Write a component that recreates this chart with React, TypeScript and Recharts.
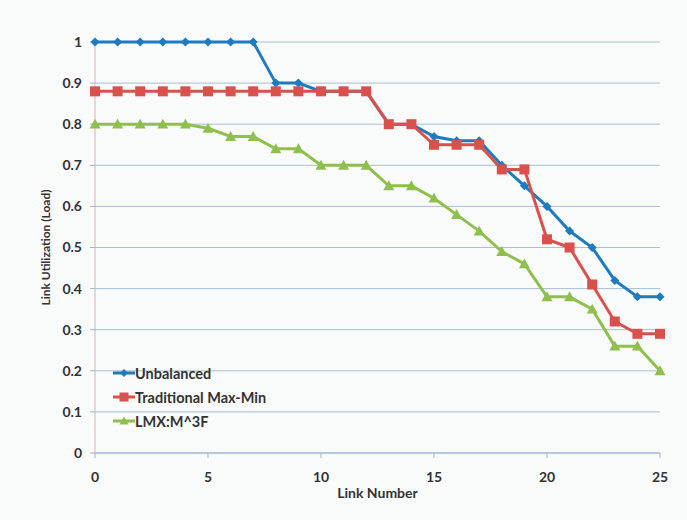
import React from 'react';
import { LineChart, Line, XAxis, YAxis, CartesianGrid } from 'recharts';

const links = [0, 1, 2, 3, 4, 5, 6, 7, 8, 9, 10, 11, 12, 13, 14, 15, 16, 17, 18, 19, 20, 21, 22, 23, 24, 25];
const unbalanced = [1, 1, 1, 1, 1, 1, 1, 1, 0.9, 0.9, 0.88, 0.88, 0.88, 0.8, 0.8, 0.77, 0.76, 0.76, 0.7, 0.65, 0.6, 0.54, 0.5, 0.42, 0.38, 0.38];
const maxMin = [0.88, 0.88, 0.88, 0.88, 0.88, 0.88, 0.88, 0.88, 0.88, 0.88, 0.88, 0.88, 0.88, 0.8, 0.8, 0.75, 0.75, 0.75, 0.69, 0.69, 0.52, 0.5, 0.41, 0.32, 0.29, 0.29];
const lmx = [0.8, 0.8, 0.8, 0.8, 0.8, 0.79, 0.77, 0.77, 0.74, 0.74, 0.7, 0.7, 0.7, 0.65, 0.65, 0.62, 0.58, 0.54, 0.49, 0.46, 0.38, 0.38, 0.35, 0.26, 0.26, 0.2];
const xTicks = [0, 5, 10, 15, 20, 25];
const yTicks = [0, 0.1, 0.2, 0.3, 0.4, 0.5, 0.6, 0.7, 0.8, 0.9, 1];

const data = links.map((n, i) => ({
    link: n,
    unbalanced: unbalanced[i],
    maxMin: maxMin[i],
    lmx: lmx[i],
}));

const BLUE = '#1f7bc0';
const RED = '#d9514c';
const GREEN = '#8fc04e';
const FONT = 'Lato, "Open Sans", sans-serif';

const Diamond = (props: any) => {
    const { cx, cy, fill, r = 4.5 } = props;
    if (cx == null || cy == null) return null;
    return <path d={`M${cx},${cy - r} L${cx + r},${cy} L${cx},${cy + r} L${cx - r},${cy} Z`} fill={fill} />;
};

const Square = (props: any) => {
    const { cx, cy, fill, s = 5 } = props;
    if (cx == null || cy == null) return null;
    return <rect x={cx - s} y={cy - s} width={s * 2} height={s * 2} fill={fill} />;
};

const Triangle = (props: any) => {
    const { cx, cy, fill, s = 5.5 } = props;
    if (cx == null || cy == null) return null;
    return <path d={`M${cx},${cy - s} L${cx + s},${cy + s * 0.8} L${cx - s},${cy + s * 0.8} Z`} fill={fill} />;
};

const series = [
    { key: 'unbalanced', name: 'Unbalanced', color: BLUE, Shape: Diamond },
    { key: 'maxMin', name: 'Traditional Max-Min', color: RED, Shape: Square },
    { key: 'lmx', name: 'LMX:M^3F', color: GREEN, Shape: Triangle },
];

const LegendBox = () => (
    <div style={{ position: 'absolute', left: 113, top: 361, fontFamily: FONT, fontWeight: 700, fontSize: 14.5, color: '#333' }}>
        {series.map((s) => (
            <div key={s.key} style={{ display: 'flex', alignItems: 'center', height: 24 }}>
                <svg width={22} height={14}>
                    <line x1={0} y1={7} x2={22} y2={7} stroke={s.color} strokeWidth={3} />
                    <s.Shape cx={11} cy={7} fill={s.color} r={4} s={4.5} />
                </svg>
                <span>{s.name}</span>
            </div>
        ))}
    </div>
);

const YLabel = (props: any) => {
    const vb = props.viewBox || {};
    const cy = (vb.y ?? 42) + (vb.height ?? 411) / 2;
    const cx = 45;
    return (
        <text
            x={cx}
            y={cy}
            transform={`rotate(-90, ${cx}, ${cy})`}
            textAnchor="middle"
            dominantBaseline="central"
            fill="#333"
            fontFamily={FONT}
            fontWeight={700}
            fontSize={12}
        >
            Link Utilization  (Load)
        </text>
    );
};

export default () => {
    return (
        <div style={{ position: 'absolute', left: 0, top: 0, width: 687, height: 520, background: '#f9fafa' }}>
            <LineChart
                width={687}
                height={520}
                data={data}
                margin={{ top: 42, right: 27, left: 0, bottom: 37 }}
            >
                <CartesianGrid horizontal vertical={false} stroke="#a8bfd4" strokeWidth={1} />
                <XAxis
                    dataKey="link"
                    type="number"
                    domain={[0, 25]}
                    ticks={xTicks}
                    interval={0}
                    height={30}
                    stroke="#9fb5cc"
                    tickLine={{ stroke: '#9fb5cc' }}
                    tickSize={5}
                    tickMargin={14}
                    tick={{ fill: '#333', fontFamily: FONT, fontWeight: 700, fontSize: 14 }}
                    label={{ value: 'Link Number', position: 'insideBottom', offset: -15, dx: 0, fill: '#333', fontFamily: FONT, fontWeight: 700, fontSize: 14 }}
                />
                <YAxis
                    type="number"
                    domain={[0, 1]}
                    ticks={yTicks}
                    interval={0}
                    width={95}
                    stroke="#d9b4b4"
                    tickLine={{ stroke: '#9fb5cc' }}
                    tickSize={5}
                    tickMargin={8}
                    tickFormatter={(v: number) => String(Number(v.toFixed(1)))}
                    tick={{ fill: '#333', fontFamily: FONT, fontWeight: 700, fontSize: 14 }}
                    label={<YLabel />}
                />
                {series.map((s) => (
                    <Line
                        key={s.key}
                        dataKey={s.key}
                        name={s.name}
                        stroke={s.color}
                        strokeWidth={3}
                        isAnimationActive={false}
                        dot={(p: any) => <s.Shape key={`${s.key}-${p.index}`} cx={p.cx} cy={p.cy} fill={s.color} />}
                        activeDot={false}
                    />
                ))}
            </LineChart>
            <LegendBox />
        </div>
    );
}
